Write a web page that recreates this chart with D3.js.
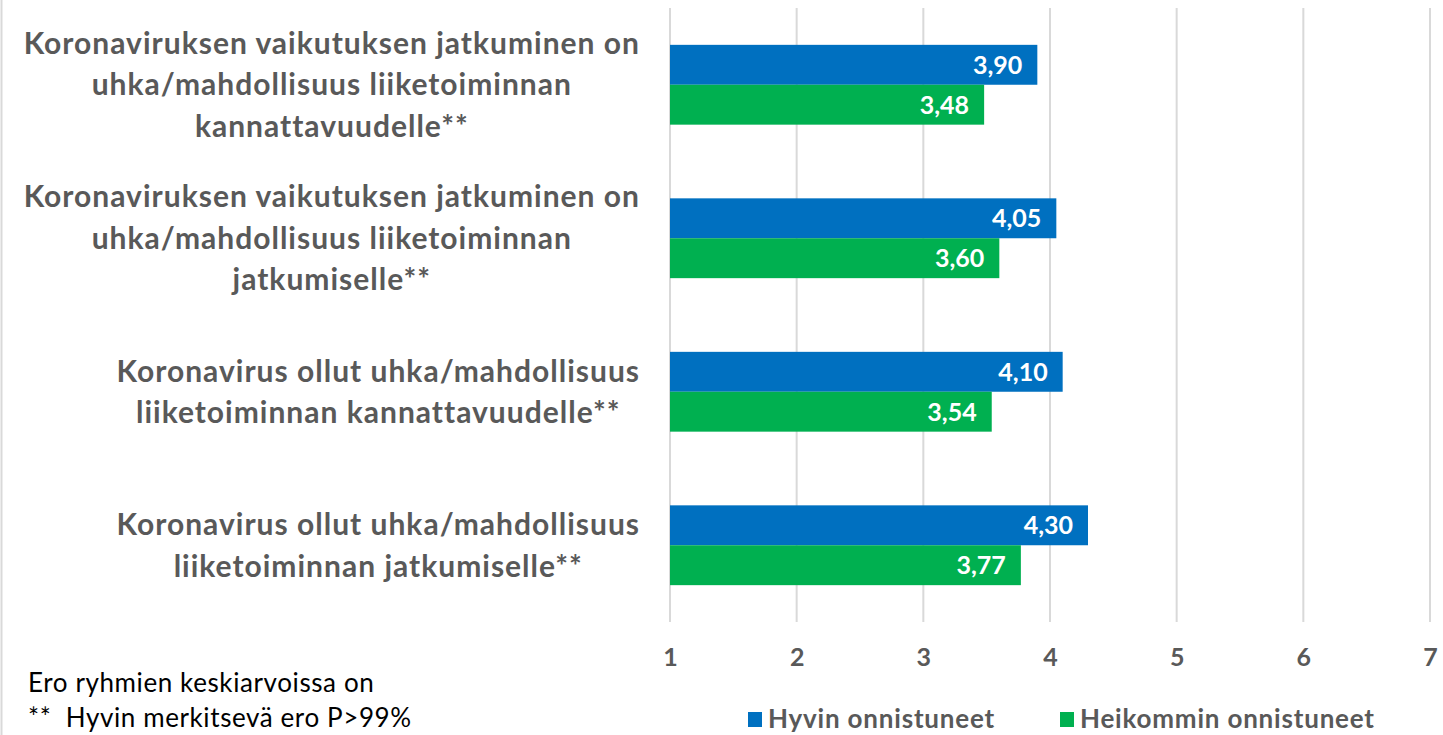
<!DOCTYPE html>
<html>
<head>
<meta charset="utf-8">
<script src="https://cdn.jsdelivr.net/npm/d3@7"></script>
<style>
  body { margin: 0; background: #fff; }
  text { font-family: Lato, "Noto Sans", sans-serif; }
</style>
</head>
<body>
<svg id="chart"></svg>
<script>
// data
var categories = [
  ["Koronaviruksen vaikutuksen jatkuminen on", "uhka/mahdollisuus liiketoiminnan", "kannattavuudelle**"],
  ["Koronaviruksen vaikutuksen jatkuminen on", "uhka/mahdollisuus liiketoiminnan", "jatkumiselle**"],
  ["Koronavirus ollut uhka/mahdollisuus", "liiketoiminnan kannattavuudelle**"],
  ["Koronavirus ollut uhka/mahdollisuus", "liiketoiminnan jatkumiselle**"]
];
var seriesNames = ["Hyvin onnistuneet", "Heikommin onnistuneet"];
var hyvin = [3.90, 4.05, 4.10, 4.30];
var heikommin = [3.48, 3.60, 3.54, 3.77];
var xTicks = [1, 2, 3, 4, 5, 6, 7];
var noteLines = ["Ero ryhmien keskiarvoissa on", "**  Hyvin merkitsevä ero P>99%"];

var colors = ["#0070C0", "#00B050"];
var gray = "#595959";

var svg = d3.select("#chart")
    .attr("width", 1443)
    .attr("height", 735);

var margin = {top: 8, right: 13, bottom: 113, left: 670},
    width = +svg.attr("width") - margin.left - margin.right,
    height = +svg.attr("height") - margin.top - margin.bottom;

var x = d3.scaleLinear().domain([1, 7]).range([0, width]);
var y0 = d3.scaleBand().domain(d3.range(categories.length)).range([0, height])
    .paddingInner(0.48).paddingOuter(0.24);
var y1 = d3.scaleBand().domain([0, 1]).range([0, y0.bandwidth()]);

// chart border on the left
svg.append("line")
    .attr("x1", 1.5).attr("x2", 1.5).attr("y1", 0).attr("y2", 735)
    .attr("stroke", "#d9d9d9").attr("stroke-width", 2);

var g = svg.append("g")
    .attr("transform", "translate(" + margin.left + "," + margin.top + ")");

// gridlines
g.selectAll(".grid")
  .data(xTicks)
  .enter().append("line")
    .attr("class", "grid")
    .attr("x1", function(d) { return x(d); })
    .attr("x2", function(d) { return x(d); })
    .attr("y1", 0)
    .attr("y2", height)
    .attr("stroke", "#d9d9d9")
    .attr("stroke-width", 2);

// x axis labels
var xaxis = g.append("g")
    .attr("transform", "translate(0," + height + ")")
    .call(d3.axisBottom(x).tickValues(xTicks).tickSize(0).tickPadding(26).tickFormat(d3.format("d")));
xaxis.select(".domain").remove();
xaxis.selectAll("text")
    .attr("fill", gray)
    .style("font-size", "25px")
    .style("font-weight", "bold")
    .style("font-family", "Lato, sans-serif");

// bars
var rows = categories.map(function(c, i) { return {i: i, vals: [hyvin[i], heikommin[i]]}; });

var groups = g.selectAll(".group")
  .data(rows)
  .enter().append("g")
    .attr("class", "group")
    .attr("transform", function(d) { return "translate(0," + y0(d.i) + ")"; });

var bars = groups.selectAll("rect")
  .data(function(d) { return d.vals.map(function(v, k) { return {k: k, v: v}; }); })
  .enter().append("rect")
    .attr("x", x(1))
    .attr("y", function(d) { return y1(d.k); })
    .attr("width", function(d) { return x(d.v) - x(1); })
    .attr("height", y1.bandwidth())
    .attr("fill", function(d) { return colors[d.k]; });

groups.selectAll(".val")
  .data(function(d) { return d.vals.map(function(v, k) { return {k: k, v: v}; }); })
  .enter().append("text")
    .attr("class", "val")
    .attr("x", function(d) { return x(d.v) - 15; })
    .attr("y", function(d) { return y1(d.k) + y1.bandwidth() / 2; })
    .attr("dy", "0.36em")
    .attr("text-anchor", "end")
    .attr("fill", "#fff")
    .style("font-size", "25px")
    .style("font-weight", "bold")
    .text(function(d) { return d3.format(".2f")(d.v).replace(".", ","); });

// category labels, each block right-aligned to the plot, lines centred in it
var lineH = 41.5, labelRight = 640;
categories.forEach(function(lines, i) {
  var cy = margin.top + y0(i) + y0.bandwidth() / 2;
  var t = svg.append("g").attr("class", "cat");
  var texts = t.selectAll("text")
    .data(lines)
    .enter().append("text")
      .attr("y", function(d, j) { return cy + (j - (lines.length - 1) / 2) * lineH; })
      .attr("dy", "0.35em")
      .attr("text-anchor", "middle")
      .attr("fill", gray)
      .style("font-size", "30px")
      .style("letter-spacing", "1px")
      .style("font-weight", "bold")
      .text(function(d) { return d; });
  var maxW = d3.max(texts.nodes(), function(n) { return n.getComputedTextLength(); });
  texts.attr("x", labelRight - maxW / 2);
});

// note
svg.selectAll(".note")
  .data(noteLines)
  .enter().append("text")
    .attr("class", "note")
    .attr("x", 28)
    .attr("y", function(d, i) { return 683 + i * 35; })
    .attr("dy", "0.35em")
    .attr("fill", "#000")
    .style("font-size", "26px")
    .style("letter-spacing", "0.6px")
    .style("white-space", "pre")
    .text(function(d) { return d; });

// legend
var legendX = [748, 1060];
var legend = svg.selectAll(".legend")
  .data(seriesNames)
  .enter().append("g")
    .attr("class", "legend")
    .attr("transform", function(d, i) { return "translate(" + legendX[i] + ",719)"; });
legend.append("rect")
    .attr("x", 0).attr("y", -7).attr("width", 14).attr("height", 15)
    .attr("fill", function(d, i) { return colors[i]; });
legend.append("text")
    .attr("x", 20)
    .attr("dy", "0.35em")
    .attr("fill", gray)
    .style("font-size", "26px")
    .style("letter-spacing", "0.8px")
    .style("font-weight", "bold")
    .text(function(d) { return d; });
</script>
</body>
</html>
